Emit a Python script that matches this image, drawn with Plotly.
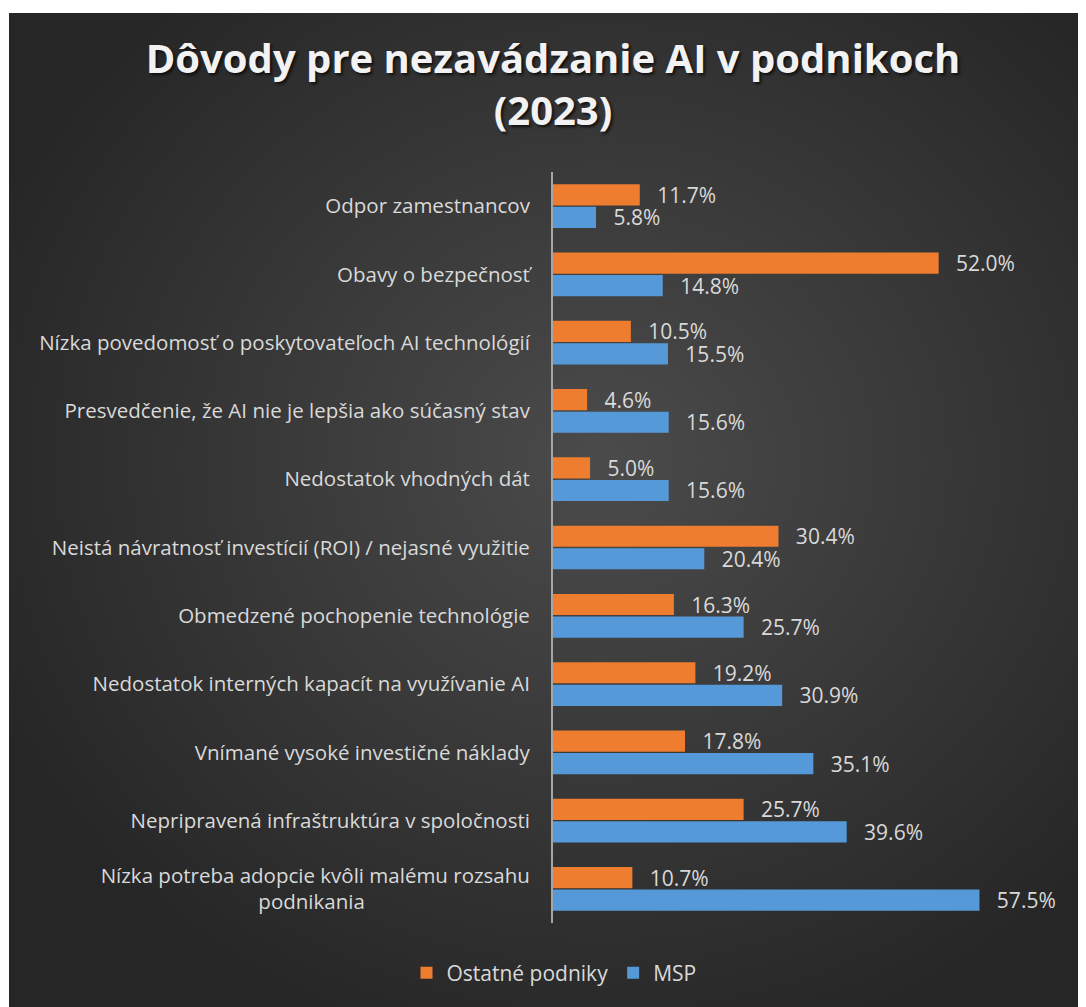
import base64
import plotly.graph_objects as go

categories = [
    "Odpor zamestnancov",
    "Obavy o bezpečnosť",
    "Nízka povedomosť o poskytovateľoch AI technológií",
    "Presvedčenie, že AI nie je lepšia ako súčasný stav",
    "Nedostatok vhodných dát",
    "Neistá návratnosť investícií (ROI) / nejasné využitie",
    "Obmedzené pochopenie technológie",
    "Nedostatok interných kapacít na využívanie AI",
    "Vnímané vysoké investičné náklady",
    "Nepripravená infraštruktúra v spoločnosti",
    "Nízka potreba adopcie kvôli malému rozsahu<br>podnikania" + "\u00a0" * 31,
]
ostatne = [11.7, 52.0, 10.5, 4.6, 5.0, 30.4, 16.3, 19.2, 17.8, 25.7, 10.7]
msp = [5.8, 14.8, 15.5, 15.6, 15.6, 20.4, 25.7, 30.9, 35.1, 39.6, 57.5]
series_names = ["Ostatné podniky", "MSP"]
title_text = "Dôvody pre nezavádzanie AI v podnikoch<br>(2023)"

# page has an 8px body margin, so the figure is sized to fit the window
W, H = 1078, 999
ML, MR, MT, MB = 545, 88, 164, 84
PW, PH = W - ML - MR, H - MT - MB

svg = f'''<svg xmlns="http://www.w3.org/2000/svg" width="{W}" height="{H}" viewBox="0 0 {W} {H}">
<defs><radialGradient id="g" cx="0.55" cy="0.45" r="0.62">
<stop offset="0" stop-color="#4b4b4b"/><stop offset="1" stop-color="#262626"/></radialGradient></defs>
<rect x="0" y="0" width="{W}" height="{H}" fill="#ffffff"/>
<rect x="1" y="5" width="{W-1}" height="{H-5}" fill="url(#g)"/>
</svg>'''
bg_src = "data:image/svg+xml;base64," + base64.b64encode(svg.encode()).decode()

tick_font = dict(family="Open Sans", size=20.5, color="#d9d9d9")
label_font = dict(family="Open Sans", size=21, color="#d9d9d9")
pad = "\u00a0\u00a0\u2009"

fig = go.Figure()
fig.add_trace(go.Bar(
    name=series_names[0], y=categories, x=ostatne, orientation="h",
    marker=dict(color="#ef7d2f", line=dict(width=0)),
    text=[f"{pad}{v:.1f}%" for v in ostatne], textposition="outside",
    textfont=label_font, cliponaxis=False, constraintext="none",
))
fig.add_trace(go.Bar(
    name=series_names[1], y=categories, x=msp, orientation="h",
    marker=dict(color="#5699d9", line=dict(width=0)),
    text=[f"{pad}{v:.1f}%" for v in msp], textposition="outside",
    textfont=label_font, cliponaxis=False, constraintext="none",
))

fig.update_layout(
    width=W, height=H,
    margin=dict(l=ML, r=MR, t=MT, b=MB, autoexpand=False),
    paper_bgcolor="#ffffff", plot_bgcolor="rgba(0,0,0,0)",
    barmode="group", bargap=0.34, bargroupgap=0.06,
    title=dict(
        text=title_text, x=545 / W, xanchor="center", xref="container",
        y=1 - 65 / H, yanchor="middle", yref="container",
        font=dict(family="Open Sans", size=40, color="#f2f2f2", weight="bold",
                  shadow="2px 2px 3px rgba(0,0,0,0.7)"),
    ),
    xaxis=dict(range=[0, 60], showgrid=False, zeroline=False, showticklabels=False,
               showline=False, ticks=""),
    yaxis=dict(autorange="reversed", showgrid=False, zeroline=False,
               showline=True, linecolor="#a6a6a6", linewidth=2,
               ticks="", ticklabelstandoff=17, tickfont=tick_font),
    legend=dict(orientation="h", xref="container", yref="container",
                x=546 / W, xanchor="center", y=1 - 965 / H, yanchor="middle",
                font=label_font, traceorder="normal", itemwidth=30,
                bgcolor="rgba(0,0,0,0)"),
    images=[dict(source=bg_src, xref="paper", yref="paper",
                 x=-ML / PW, y=(H - MB) / PH,
                 sizex=W / PW, sizey=H / PH, xanchor="left", yanchor="top",
                 sizing="stretch", layer="below")],
    showlegend=True,
)

fig.write_html("out.html")
